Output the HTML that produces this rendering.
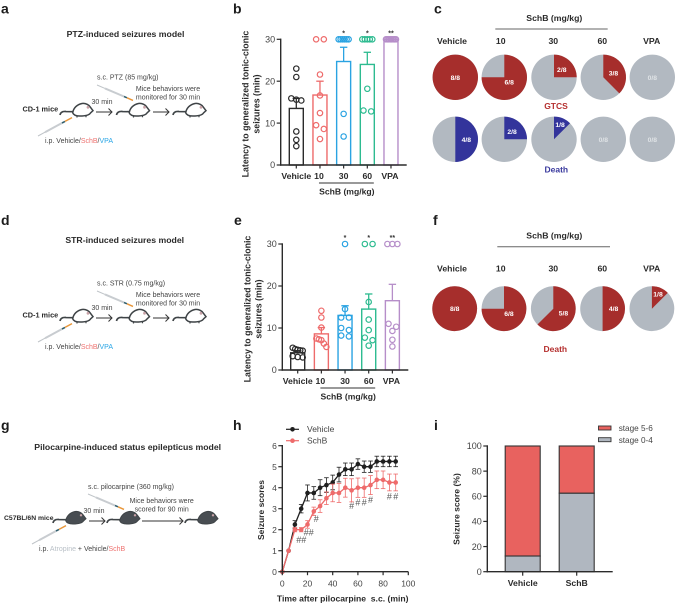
<!DOCTYPE html>
<html lang="en">
<head>
<meta charset="utf-8">
<title>Seizure model figure</title>
<style>
html,body{margin:0;padding:0;background:#fff;width:675px;height:605px;overflow:hidden}
svg{display:block;font-family:"Liberation Sans",sans-serif;filter:blur(0.35px)}
.pl{font-size:14px;font-weight:700;fill:#1c1c1c}
.t{font-size:8.7px;font-weight:700;fill:#2a2a2a;text-anchor:middle}
.s{font-size:7px;fill:#444}
.b{font-size:7.3px;font-weight:700;fill:#2a2a2a}
.m{text-anchor:middle}
</style>
</head>
<body>
<svg id="figure" xmlns="http://www.w3.org/2000/svg" width="675" height="605" viewBox="0 0 675 605">
<defs>
<g id="mouse-white">
<path d="M0,15 C0.5,12 3,11.2 6,11.5 L14,11.7" fill="none" stroke="#3f4447" stroke-width="1.7"/>
<path d="M12.7,12.7 C13.5,8 17,4.5 22,3.5 C26,3 29,5 30,6.7 L33,10.7 L30.5,13 C29,15.5 25,16 20,16 C16,16 13.5,15 12.7,12.7Z" fill="#fff" stroke="#3f4447" stroke-width="1.5"/>
<path d="M17,16.5 L17,17.5 M26,16 L26,17.2" stroke="#3f4447" stroke-width="1.2"/>
<circle cx="28" cy="7.3" r="1.4" fill="#c9a3a8"/>
</g>
<g id="mouse-dark">
<path d="M0,15 C0.5,12 3,11.2 6,11.5 L14,11.7" fill="none" stroke="#3f4447" stroke-width="1.7"/>
<path d="M12.7,12.7 C13.5,8 17,4.5 22,3.5 C26,3 29,5 30,6.7 L33,10.7 L30.5,13 C29,15.5 25,16 20,16 C16,16 13.5,15 12.7,12.7Z" fill="#484d52" stroke="#3f4447" stroke-width="1"/>
<circle cx="28" cy="7.3" r="1.2" fill="#c9a3a8"/>
</g>
<g id="syringe-down">
<path d="M0,0 L8,3.4" stroke="#bfc4c8" stroke-width="1"/>
<path d="M8,3.4 L27,11.5" stroke="#c8ccd0" stroke-width="2"/>
<path d="M27,11.5 L30,12.8" stroke="#33606e" stroke-width="1.6"/>
<path d="M30,12.8 L36,15.4" stroke="#e8963a" stroke-width="1.5"/>
</g>
<g id="syringe-up">
<path d="M0,0 L7,-3.8" stroke="#bfc4c8" stroke-width="1"/>
<path d="M7,-3.8 L24,-13" stroke="#c8ccd0" stroke-width="2"/>
<path d="M24,-13 L27,-14.6" stroke="#33606e" stroke-width="1.6"/>
<path d="M27,-14.6 L34,-18.4" stroke="#e8963a" stroke-width="1.5"/>
</g>
<g id="arrow-head"><path d="M-3.5,-3.5 L0,0 L-3.5,3.5" fill="none" stroke="#333" stroke-width="1"/></g>
</defs>

<!-- panel a -->
<g>
<text class="pl" x="1" y="13.5">a</text>
<text class="t" x="125.5" y="37">PTZ-induced seizures model</text>
<text class="s" x="97" y="79.5">s.c. PTZ (85 mg/kg)</text>
<text class="s m" x="168" y="91">Mice behaviors were</text>
<text class="s m" x="168" y="99.5">monitored for 30 min</text>
<text class="s m" x="102" y="104">30 min</text>
<text class="b" x="22.5" y="111.5">CD-1 mice</text>
<text class="s" x="45" y="143">i.p. Vehicle/<tspan fill="#ee7270">SchB</tspan>/<tspan fill="#2aa6e6">VPA</tspan></text>
<use href="#mouse-white" x="60" y="100"/>
<use href="#mouse-white" x="116.5" y="100"/>
<use href="#mouse-white" x="173" y="100"/>
<use href="#syringe-down" x="97" y="85"/>
<use href="#syringe-up" x="38" y="136"/>
<path d="M96,112 H112 M153,112 H169" stroke="#333" stroke-width="1"/>
<use href="#arrow-head" x="112" y="112"/>
<use href="#arrow-head" x="169" y="112"/>
</g>

<!-- panel d -->
<g>
<text class="pl" x="1" y="225">d</text>
<text class="t" x="124.7" y="243">STR-induced seizures model</text>
<text class="s" x="97" y="285.5">s.c. STR (0.75 mg/kg)</text>
<text class="s m" x="168" y="297">Mice behaviors were</text>
<text class="s m" x="168" y="305.5">monitored for 30 min</text>
<text class="s m" x="102" y="310">30 min</text>
<text class="b" x="22.5" y="317.5">CD-1 mice</text>
<text class="s" x="45" y="349">i.p. Vehicle/<tspan fill="#ee7270">SchB</tspan>/<tspan fill="#2aa6e6">VPA</tspan></text>
<use href="#mouse-white" x="60" y="306"/>
<use href="#mouse-white" x="116.5" y="306"/>
<use href="#mouse-white" x="173" y="306"/>
<use href="#syringe-down" x="97" y="291"/>
<use href="#syringe-up" x="38" y="342"/>
<path d="M96,318 H112 M153,318 H169" stroke="#333" stroke-width="1"/>
<use href="#arrow-head" x="112" y="318"/>
<use href="#arrow-head" x="169" y="318"/>
</g>

<!-- panel g -->
<g>
<text class="pl" x="1" y="430">g</text>
<text class="t" x="127.7" y="450">Pilocarpine-induced status epilepticus model</text>
<text class="s" x="88" y="489">s.c. pilocarpine (360 mg/kg)</text>
<text class="s m" x="161.7" y="503">Mice behaviors were</text>
<text class="s m" x="161.7" y="511.5">scored for 90 min</text>
<text class="s m" x="94" y="513">30 min</text>
<text class="b" x="4" y="520" style="font-size:6.8px">C57BL/6N mice</text>
<text class="s" x="39" y="551">i.p. <tspan fill="#b9c0c7">Atropine</tspan> + Vehicle/<tspan fill="#ee7270">SchB</tspan></text>
<use href="#mouse-dark" x="53" y="508"/>
<use href="#mouse-dark" x="107" y="508"/>
<use href="#mouse-dark" x="185" y="508"/>
<use href="#syringe-down" x="88" y="494"/>
<use href="#syringe-up" x="32" y="544"/>
<path d="M89,521 H105 M142,521 H183" stroke="#333" stroke-width="1"/>
<use href="#arrow-head" x="105" y="521"/>
<use href="#arrow-head" x="183" y="521"/>
</g>
</svg>

<script>
// ---------- shared chart data ----------
var groupLabels = ['Vehicle', '10', '30', '60', 'VPA'];
var yTicksLatency = [0, 10, 20, 30];

// panel b
var ptzMeans = [13.5, 16.7, 24.7, 24, 30];
var ptzErrors = [2.4, 3.3, 3.4, 2.9, 0];
var ptzVehicle = [23, 21, 15.6, 15.4, 15.9, 8, 6, 4.5];
var ptz10 = [30, 30, 21.6, 16.6, 12.4, 9.5, 8.6, 6.2];
var ptz30 = [30, 30, 30, 30, 30, 30, 12.2, 6.8];
var ptz60 = [30, 30, 30, 30, 30, 18.2, 13, 12.8];
var ptzVpa = [30, 30, 30, 30, 30, 30, 30, 30];
var ptzSig = ['', '', '*', '*', '**'];

// panel e
var strMeans = [4.1, 8.6, 13, 14.5, 16.5];
var strErrors = [0.5, 1.5, 2.3, 3.6, 3.9];
var strVehicle = [5.3, 5, 4.8, 4.7, 4.6, 3.3, 3.1, 3];
var str10 = [14.1, 12.5, 10.1, 7.5, 7.3, 7.1, 6.3, 5.5];
var str30 = [30, 14.5, 12.5, 12.5, 10, 9.5, 8.2, 8];
var str60 = [30, 30, 16.2, 12, 9.5, 7.7, 7.1, 5.8];
var strVpa = [30, 30, 30, 11, 10.3, 9.3, 7.2, 5.6];
var strSig = ['', '', '*', '*', '**'];

// panel c and f pies
var pieTotal = 8;
var gtcsCounts = [8, 6, 2, 3, 0];
var ptzDeathCounts = [4, 2, 1, 0, 0];
var strDeathCounts = [8, 6, 5, 4, 1];

// panel h
var times = [0, 5, 10, 15, 20, 25, 30, 35, 40, 45, 50, 55, 60, 65, 70, 75, 80, 85, 90];
var vehicleScores = [0, 1, 2.25, 3, 3.75, 3.75, 4, 4.125, 4.25, 4.625, 4.875, 4.875, 5.125, 5, 5, 5.25, 5.25, 5.25, 5.25];
var vehicleSem = [0, 0, 0.18, 0.2, 0.38, 0.3, 0.38, 0.35, 0.35, 0.35, 0.3, 0.3, 0.25, 0.27, 0.27, 0.25, 0.25, 0.25, 0.25];
var schbScores = [0, 1, 2, 2, 2.25, 2.875, 3.125, 3.5, 3.75, 3.75, 4, 3.875, 4, 4, 4.125, 4.375, 4.375, 4.25, 4.25];
var schbSem = [0, 0, 0.1, 0.1, 0.18, 0.2, 0.3, 0.3, 0.42, 0.45, 0.45, 0.55, 0.46, 0.46, 0.45, 0.42, 0.42, 0.4, 0.4];
var hashTimes = [15, 21, 27, 55, 60, 65, 70, 85, 90];
var hashScores = [1.5, 1.86, 2.5, 3.13, 3.29, 3.29, 3.41, 3.57, 3.57];
var hashLabels = ['##', '##', '#', '#', '#', '#', '#', '#', '#'];
var xTicksTime = [0, 20, 40, 60, 80, 100];
var yTicksScore = [0, 1, 2, 3, 4, 5, 6];

// panel i
var stageGroups = ['Vehicle', 'SchB'];
var stageLow = [12.5, 62.5];
var stageHigh = [87.5, 37.5];
var yTicksPercent = [0, 20, 40, 60, 80, 100];

var GROUP_COLORS = ['#2b2b2b', '#ee6b6b', '#2aa3e2', '#2dbb90', '#b68ec9'];
var svg = document.getElementById('figure');
var NS = 'http://www.w3.org/2000/svg';

function el(parent, tag, attrs, name) {
  var e = document.createElementNS(NS, tag);
  for (var k in attrs) { e.setAttribute(k, attrs[k]); }
  
  
  parent.appendChild(e);
  return e;
}
function txt(parent, x, y, str, attrs, name) {
  var a = { x: x, y: y, 'font-size': 8.5, fill: '#333', 'text-anchor': 'middle' };
  for (var k in attrs) { a[k] = attrs[k]; }
  var e = el(parent, 'text', a, name);
  e.textContent = str;
  return e;
}
function line(parent, x1, y1, x2, y2, color, w, name) {
  return el(parent, 'line', { x1: x1, y1: y1, x2: x2, y2: y2, stroke: color, 'stroke-width': w }, name);
}
function linScale(d0, d1, r0, r1) {
  return function (v) { return r0 + (v - d0) / (d1 - d0) * (r1 - r0); };
}
function yAxis(parent, x, scale, ticks, prefix, size) {
  var vals = ticks.map(scale);
  line(parent, x, Math.min.apply(null, vals) - 0.7, x, Math.max.apply(null, vals) + 0.7, '#2b2b2b', 1.4, prefix + '-y-axis');
  ticks.forEach(function (t) {
    line(parent, x - 4, scale(t), x, scale(t), '#2b2b2b', 1.2, prefix + '-y-tick-' + t);
    txt(parent, x - 5.5, scale(t) + 3.2, String(t), { 'text-anchor': 'end', fill: '#444', 'font-size': size }, prefix + '-y-tick-label-' + t);
  });
}
function rotTitle(parent, x, y, str, name, size) {
  var t = txt(parent, x, y, str, { 'font-weight': 700, 'font-size': size || 8.8, fill: '#2a2a2a', transform: 'rotate(-90 ' + x + ' ' + y + ')' }, name);
  return t;
}

// Spreads points of nearly equal value symmetrically around the bar centre
function swarmOffsets(values) {
  var sorted = values.map(function (v, i) { return { v: v, i: i }; }).sort(function (a, b) { return b.v - a.v; });
  var out = [];
  var groups = [];
  sorted.forEach(function (p) {
    var g = groups[groups.length - 1];
    if (g && g[g.length - 1].v - p.v < 1.0) { g.push(p); } else { groups.push([p]); }
  });
  groups.forEach(function (g) {
    var step = g.length > 1 ? Math.min(7.7, 10 / (g.length - 1)) : 0;
    g.forEach(function (p, k) { out[p.i] = (k - (g.length - 1) / 2) * step; });
  });
  return out;
}

function barPanel(cfg) {
  var g = el(svg, 'g', {}, cfg.id + '-bar-chart');
  var y = linScale(0, 30, cfg.y0, cfg.y30);
  var x = function (i) { return cfg.x0 + i * 23.67; };
  txt(g, cfg.labelX, cfg.labelY, cfg.label, { 'text-anchor': 'start', 'font-size': 14, 'font-weight': 700, fill: '#1c1c1c' }, 'panel-label-' + cfg.label);
  // error bars and bars
  groupLabels.forEach(function (lab, i) {
    var c = GROUP_COLORS[i];
    var cx = x(i);
    line(g, cx, y(cfg.means[i]), cx, y(cfg.means[i] + cfg.errors[i]), c, 1.3, cfg.id + '-error-' + lab);
    line(g, cx - 3.7, y(cfg.means[i] + cfg.errors[i]), cx + 3.7, y(cfg.means[i] + cfg.errors[i]), c, 1.3, cfg.id + '-error-cap-' + lab);
    el(g, 'rect', { x: cx - 7, y: y(cfg.means[i]), width: 14, height: cfg.y0 - y(cfg.means[i]), fill: 'none', stroke: c, 'stroke-width': 1.4 }, cfg.id + '-bar-' + lab);
    var off = swarmOffsets(cfg.points[i]);
    cfg.points[i].forEach(function (v, k) {
      el(g, 'circle', { cx: cx + off[k], cy: y(v), r: 2.7, fill: 'none', stroke: c, 'stroke-width': 1.2 }, cfg.id + '-point-' + lab + '-' + k);
    });
    if (cfg.sig[i]) {
      txt(g, cx, cfg.sigY, cfg.sig[i], { 'font-size': 7, 'font-weight': 700, fill: '#333' }, cfg.id + '-significance-' + lab);
    }
    line(g, cx, cfg.y0, cx, cfg.y0 + 3.5, '#2b2b2b', 1.2, cfg.id + '-x-tick-' + lab);
    txt(g, cx + (i === 1 ? -1 : (i === 4 ? -1 : 0)), cfg.y0 + 14, lab, { 'font-weight': 700, 'font-size': 8.7, fill: '#2a2a2a' }, cfg.id + '-x-label-' + lab);
  });
  yAxis(g, cfg.axisX, y, yTicksLatency, cfg.id, 9);
  line(g, cfg.axisX - 0.7, cfg.y0, cfg.axisX + 126, cfg.y0, '#2b2b2b', 1.4, cfg.id + '-x-axis');
  line(g, x(1) - 1, cfg.y0 + 18, x(3) + 6.5, cfg.y0 + 18, '#333', 1, cfg.id + '-schb-bracket');
  txt(g, cfg.x0 + 50.5, cfg.y0 + 29.3, 'SchB (mg/kg)', { 'font-weight': 700, 'font-size': 8.6, fill: '#2a2a2a' }, cfg.id + '-schb-label');
  rotTitle(g, cfg.axisX - 32, cfg.titleY, 'Latency to generalized tonic-clonic', cfg.id + '-y-title-line1');
  rotTitle(g, cfg.axisX - 21, cfg.titleY, 'seizures (min)', cfg.id + '-y-title-line2');
}

barPanel({ id: 'ptz', label: 'b', labelX: 233, labelY: 13.5, axisX: 280.7, x0: 296.3, y0: 165, y30: 39.3, sigY: 35.5, titleY: 104,
  means: ptzMeans, errors: ptzErrors, points: [ptzVehicle, ptz10, ptz30, ptz60, ptzVpa], sig: ptzSig });
barPanel({ id: 'str', label: 'e', labelX: 234, labelY: 225, axisX: 282.3, x0: 297.7, y0: 370, y30: 244, sigY: 240, titleY: 309,
  means: strMeans, errors: strErrors, points: [strVehicle, str10, str30, str60, strVpa], sig: strSig });

// ---------- pies ----------
function pie(parent, cx, cy, r, count, color, name) {
  el(parent, 'circle', { cx: cx, cy: cy, r: r, fill: '#b2b9c1' }, name + '-base');
  if (count >= pieTotal) {
    el(parent, 'circle', { cx: cx, cy: cy, r: r, fill: color }, name + '-slice');
  } else if (count > 0) {
    var a = count / pieTotal * 2 * Math.PI;
    var ex = cx + r * Math.sin(a), ey = cy - r * Math.cos(a);
    el(parent, 'path', { d: 'M' + cx + ',' + cy + ' L' + cx + ',' + (cy - r) + ' A' + r + ',' + r + ' 0 ' + (a > Math.PI ? 1 : 0) + ' 1 ' + ex + ',' + ey + ' Z', fill: color }, name + '-slice');
  }
  var lx = cx, ly = cy;
  if (count > 0 && count < pieTotal) {
    var mid = count / pieTotal * Math.PI;
    var d = count === 1 ? 16 : (count === 6 ? 7 : 11);
    lx = cx + d * Math.sin(mid);
    ly = cy - d * Math.cos(mid);
  }
  txt(parent, lx, ly + 2.5, count + '/' + pieTotal, { 'font-size': 6.8, 'font-weight': 700, fill: count === 0 ? '#dfe3e6' : '#fff' }, name + '-label');
}
function pieHeader(parent, id, xs, labelCy, labelY, bracketY, x1, x2, textY, cxText) {
  txt(parent, cxText, textY, 'SchB (mg/kg)', { 'font-weight': 700, 'font-size': 8.7, fill: '#2a2a2a' }, id + '-schb-label');
  line(parent, x1, bracketY, x2, bracketY, '#666', 1, id + '-schb-bracket');
  groupLabels.forEach(function (lab, i) {
    txt(parent, xs[i], labelY, lab, { 'font-weight': 700, 'font-size': 8.7, fill: '#2a2a2a' }, id + '-column-label-' + lab);
  });
}
var pc = el(svg, 'g', {}, 'panel-c-pies');
txt(pc, 434, 13.5, 'c', { 'text-anchor': 'start', 'font-size': 14, 'font-weight': 700, fill: '#1c1c1c' }, 'panel-label-c');
pieHeader(pc, 'ptz-pies', [452, 500.7, 553.3, 602.3, 651.7], 0, 44, 29, 495.3, 607.7, 21, 554.3);
var pieColC = function (i) { return [455.3, 504.3, 554, 603.3, 652.3][i]; };
gtcsCounts.forEach(function (n, i) { pie(pc, pieColC(i), 77.3, 22.7, n, '#a62e2c', 'gtcs-pie-' + groupLabels[i]); });
ptzDeathCounts.forEach(function (n, i) { pie(pc, pieColC(i), 139.3, 22.7, n, '#33349b', 'ptz-death-pie-' + groupLabels[i]); });
txt(pc, 556, 109, 'GTCS', { 'font-size': 8.5, 'font-weight': 700, fill: '#b5302f' }, 'gtcs-caption');
txt(pc, 556.3, 172.3, 'Death', { 'font-size': 8.5, 'font-weight': 700, fill: '#3a3a9e' }, 'ptz-death-caption');

var pf = el(svg, 'g', {}, 'panel-f-pies');
txt(pf, 433, 225, 'f', { 'text-anchor': 'start', 'font-size': 14, 'font-weight': 700, fill: '#1c1c1c' }, 'panel-label-f');
pieHeader(pf, 'str-pies', [452, 500.7, 553.3, 602.3, 651.7], 0, 271.7, 246.7, 497.3, 610, 238.3, 554.3);
var pieColF = function (i) { return 454.7 + i * 49.3; };
strDeathCounts.forEach(function (n, i) { pie(pf, pieColF(i), 308.7, 22.4, n, '#a62e2c', 'str-death-pie-' + groupLabels[i]); });
txt(pf, 555.3, 352, 'Death', { 'font-size': 8.5, 'font-weight': 700, fill: '#b5302f' }, 'str-death-caption');

// ---------- panel h ----------
var ph = el(svg, 'g', {}, 'seizure-score-line-chart');
txt(ph, 233, 430, 'h', { 'text-anchor': 'start', 'font-size': 14, 'font-weight': 700, fill: '#1c1c1c' }, 'panel-label-h');
var hx = linScale(0, 100, 282.3, 408.3);
var hy = linScale(0, 6, 571.7, 445.7);
function drawSeries(values, sem, color, id) {
  var pts = values.map(function (v, i) { return hx(times[i]) + ',' + hy(v); }).join(' ');
  values.forEach(function (v, i) {
    if (sem[i] > 0) {
      var x = hx(times[i]);
      line(ph, x, hy(v - sem[i]), x, hy(v + sem[i]), color, 0.8, id + '-error-' + times[i]);
      line(ph, x - 2.3, hy(v + sem[i]), x + 2.3, hy(v + sem[i]), color, 0.8, id + '-error-top-' + times[i]);
      line(ph, x - 2.3, hy(v - sem[i]), x + 2.3, hy(v - sem[i]), color, 0.8, id + '-error-bottom-' + times[i]);
    }
  });
  el(ph, 'polyline', { points: pts, fill: 'none', stroke: color, 'stroke-width': 1.3 }, id + '-line');
  values.forEach(function (v, i) {
    el(ph, 'circle', { cx: hx(times[i]), cy: hy(v), r: 2.3, fill: color }, id + '-point-' + times[i]);
  });
}
drawSeries(vehicleScores, vehicleSem, '#1f1f1f', 'vehicle');
drawSeries(schbScores, schbSem, '#ee6b6b', 'schb');
hashTimes.forEach(function (t, i) {
  txt(ph, hx(t), hy(hashScores[i]) + 3, hashLabels[i], { 'font-size': 9, fill: '#555' }, 'significance-hash-' + t);
});
yAxis(ph, hx(0), hy, yTicksScore, 'score', 8.5);
line(ph, hx(0) - 0.7, hy(0), hx(100), hy(0), '#2b2b2b', 1.4, 'time-x-axis');
xTicksTime.forEach(function (t) {
  line(ph, hx(t), hy(0), hx(t), hy(0) + 3.5, '#2b2b2b', 1.2, 'time-x-tick-' + t);
  txt(ph, hx(t), 586.7, String(t), { fill: '#444' }, 'time-x-tick-label-' + t);
});
txt(ph, 342.7, 601.3, 'Time after pilocarpine\u00a0 s.c. (min)', { 'font-weight': 700, 'font-size': 8.6, fill: '#2a2a2a' }, 'time-x-title');
rotTitle(ph, 264, 510, 'Seizure scores', 'score-y-title', 8.5);
line(ph, 286, 429.3, 299, 429.3, '#1f1f1f', 1.2, 'legend-line-vehicle');
el(ph, 'circle', { cx: 292.5, cy: 429.3, r: 2.3, fill: '#1f1f1f' }, 'legend-dot-vehicle');
txt(ph, 307, 432.2, 'Vehicle', { 'text-anchor': 'start', fill: '#444' }, 'legend-entry-vehicle');
line(ph, 286, 440.7, 299, 440.7, '#ee6b6b', 1.2, 'legend-line-schb');
el(ph, 'circle', { cx: 292.5, cy: 440.7, r: 2.3, fill: '#ee6b6b' }, 'legend-dot-schb');
txt(ph, 307, 443.6, 'SchB', { 'text-anchor': 'start', fill: '#444' }, 'legend-entry-schb');

// ---------- panel i ----------
var pi = el(svg, 'g', {}, 'stage-stacked-bar-chart');
txt(pi, 434, 430, 'i', { 'text-anchor': 'start', 'font-size': 14, 'font-weight': 700, fill: '#1c1c1c' }, 'panel-label-i');
var iy = linScale(0, 100, 571.7, 446);
var ix = function (i) { return 522.7 + i * 54; };
stageGroups.forEach(function (lab, i) {
  el(pi, 'rect', { x: ix(i) - 17.5, y: iy(stageLow[i]), width: 35, height: iy(0) - iy(stageLow[i]), fill: '#b0b7c0', stroke: '#333', 'stroke-width': 1.1 }, 'bar-low-' + lab);
  el(pi, 'rect', { x: ix(i) - 17.5, y: iy(stageLow[i] + stageHigh[i]), width: 35, height: iy(stageLow[i]) - iy(stageLow[i] + stageHigh[i]), fill: '#e8625f', stroke: '#333', 'stroke-width': 1.1 }, 'bar-high-' + lab);
  line(pi, ix(i), iy(0), ix(i), iy(0) + 4, '#2b2b2b', 1.2, 'stage-x-tick-' + lab);
  txt(pi, ix(i), 586, lab, { 'font-weight': 700, 'font-size': 8.7, fill: '#2a2a2a' }, 'stage-x-label-' + lab);
});
yAxis(pi, 487.3, iy, yTicksPercent, 'percent', 9);
line(pi, 486.6, iy(0), 612.7, iy(0), '#2b2b2b', 1.4, 'stage-x-axis');
rotTitle(pi, 459.5, 509, 'Seizure score (%)', 'percent-y-title', 8.6);
el(pi, 'rect', { x: 598.5, y: 426, width: 12.5, height: 4, fill: '#e8625f', stroke: '#333', 'stroke-width': 0.9 }, 'legend-swatch-high');
txt(pi, 618.7, 431, 'stage 5-6', { 'text-anchor': 'start', 'font-size': 8.2, fill: '#444' }, 'legend-entry-high');
el(pi, 'rect', { x: 598.5, y: 437.7, width: 12.5, height: 4, fill: '#b0b7c0', stroke: '#333', 'stroke-width': 0.9 }, 'legend-swatch-low');
txt(pi, 618.7, 442.8, 'stage 0-4', { 'text-anchor': 'start', 'font-size': 8.2, fill: '#444' }, 'legend-entry-low');
</script>
</body>
</html>
